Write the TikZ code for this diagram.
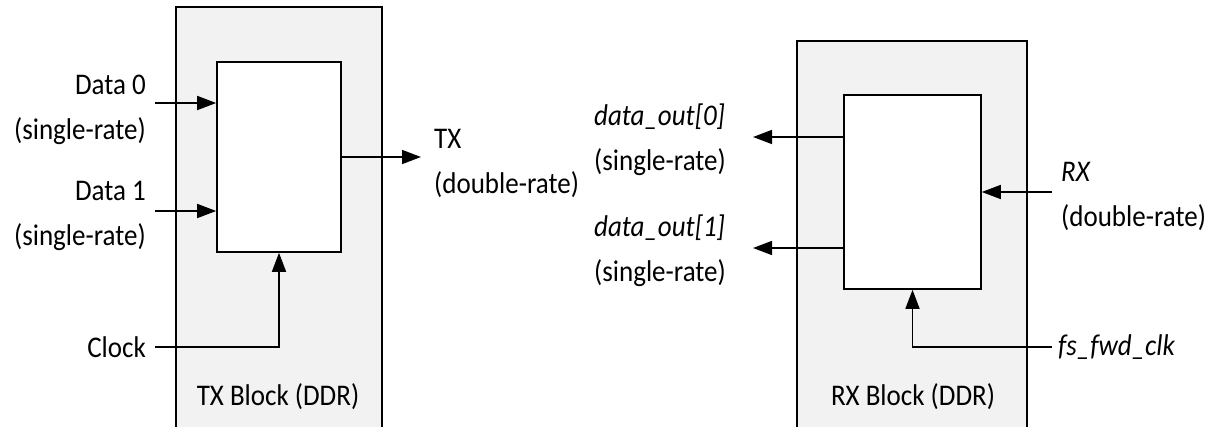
\documentclass[tikz,border=0pt]{standalone}
\usepackage{fontspec}
\setmainfont{Carlito}[FakeStretch=0.9]
\usetikzlibrary{arrows.meta}
\definecolor{blockfill}{HTML}{F2F2F2}
\begin{document}
\begin{tikzpicture}[x=1pt,y=-1pt,
  lbl/.style={inner sep=0pt, font=\fontsize{30}{45}\selectfont},
  innerblk/.style={draw=black, fill=white, line width=1.6pt, inner sep=0pt},
  arr/.style={line width=1.6pt, -{Triangle[length=19pt,width=14pt]}},
  edge/.style={line width=1.4pt}]
\useasboundingbox (0,0) rectangle (1231,427);
% outer blocks (open at the bottom)
\fill[blockfill] (176,7) rectangle (382,440);
\draw[edge] (176,440) -- (176,7) -- (382,7) -- (382,440);
\fill[blockfill] (797,41) rectangle (1027,440);
\draw[edge] (797,440) -- (797,41) -- (1027,41) -- (1027,440);
% inner boxes
\node[innerblk, minimum width=124pt, minimum height=190pt] (txin) at (279,157) {};
\node[innerblk, minimum width=137pt, minimum height=194pt] (rxin) at (912.5,192) {};
% labels
\node[lbl, anchor=east, align=right] (d0) at (146,110) {Data 0\\(single-rate)};
\node[lbl, anchor=east, align=right] (d1) at (146,216) {Data 1\\(single-rate)};
\node[lbl, anchor=east] (clk) at (146,347) {Clock};
\node[lbl, anchor=west, align=left] (txl) at (434,163) {TX\\(double-rate)};
\node[lbl, anchor=west, align=left] (do0) at (594,140) {\textit{data\_out[0]}\\(single-rate)};
\node[lbl, anchor=west, align=left] (do1) at (594,251) {\textit{data\_out[1]}\\(single-rate)};
\node[lbl, anchor=west, align=left] (rxl) at (1061,196) {\textit{RX}\\(double-rate)};
\node[lbl, anchor=west] (fs) at (1058,347) {\textit{fs\_fwd\_clk}};
\node[lbl] (txb) at (278,397) {TX Block (DDR)};
\node[lbl] (rxb) at (913,397) {RX Block (DDR)};
% connector endpoints
\coordinate (d0s) at (155,103);
\coordinate (d1s) at (155,211);
\coordinate (clks) at (155,347);
\coordinate (txo) at (421,157);
\coordinate (o0) at (753,137);
\coordinate (o1) at (753,248);
\coordinate (rxs) at (1052,192);
\coordinate (fss) at (1052,347);
% connectors
\draw[arr] (d0s) -- (d0s -| txin.west);
\draw[arr] (d1s) -- (d1s -| txin.west);
\draw[arr] (clks) -| (txin.south);
\draw[arr] (txin.east) -- (txo);
\draw[arr] (o0 -| rxin.west) -- (o0);
\draw[arr] (o1 -| rxin.west) -- (o1);
\draw[arr] (rxs) -- (rxin.east);
\draw[arr] (fss) -| (rxin.south);
\end{tikzpicture}
\end{document}
